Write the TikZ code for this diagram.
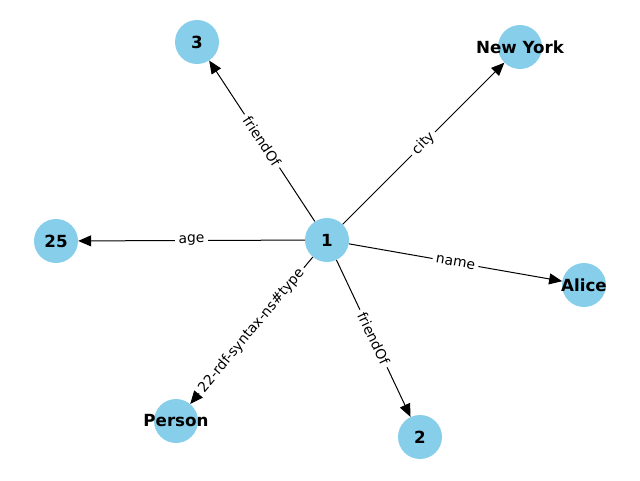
\documentclass[tikz,border=0pt]{standalone}
\usepackage{fontspec}
\setmainfont{DejaVu Sans}
\usetikzlibrary{arrows.meta}
\definecolor{skyb}{HTML}{87CEEB}
\begin{document}
\begin{tikzpicture}[x=1pt,y=-1pt,
  vert/.style={circle,fill=skyb,minimum size=44pt,inner sep=0pt},
  vlab/.style={font=\fontsize{16.7}{20}\selectfont\bfseries},
  edge/.style={-{Triangle[length=13pt,width=11pt]},line width=1pt},
  elab/.style={fill=white,inner sep=3.5pt,rounded corners=3pt,font=\fontsize{13.9}{16}\selectfont,sloped,midway}]
\useasboundingbox (0,0) rectangle (640,480);
\node[vert,label={[vlab]center:1}] (n1) at (327,240) {};
\node[vert,label={[vlab]center:3}] (n3) at (197,42) {};
\node[vert,label={[vlab]center:New York}] (ny) at (520,47) {};
\node[vert,label={[vlab]center:25}] (n25) at (56,241) {};
\node[vert,label={[vlab]center:Alice}] (al) at (584,285) {};
\node[vert,label={[vlab]center:Person}] (pe) at (176,421) {};
\node[vert,label={[vlab]center:2}] (n2) at (420,437) {};
\draw[edge] (n1) -- node[elab]{friendOf} (n3);
\draw[edge] (n1) -- node[elab]{city} (ny);
\draw[edge] (n1) -- node[elab]{age} (n25);
\draw[edge] (n1) -- node[elab]{name} (al);
\draw[edge] (n1) -- node[elab]{22-rdf-syntax-ns\#type} (pe);
\draw[edge] (n1) -- node[elab]{friendOf} (n2);
\end{tikzpicture}
\end{document}
